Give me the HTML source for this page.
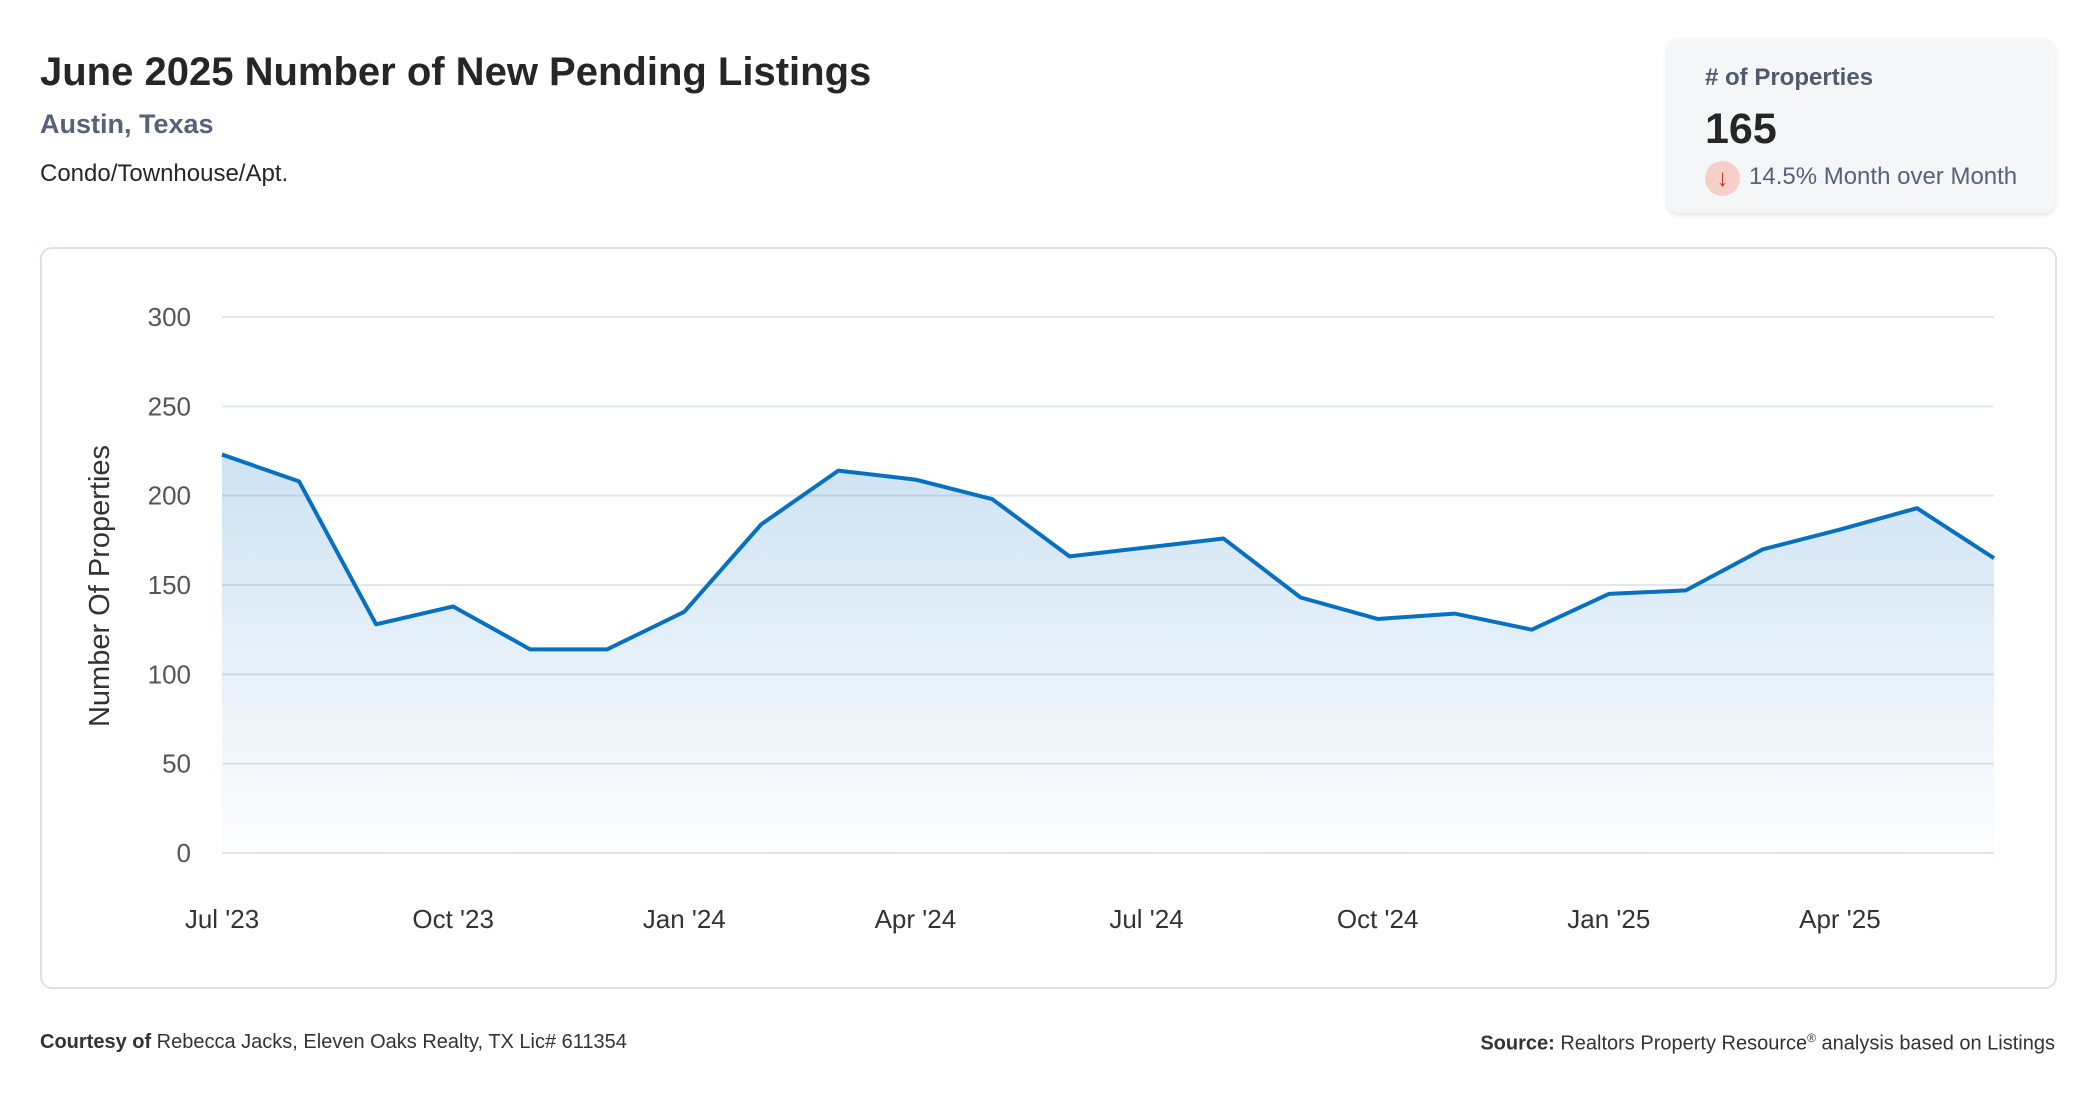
<!DOCTYPE html>
<html><head><meta charset="utf-8"><style>
body{margin:0;width:2096px;height:1100px;background:#fff;font-family:"Liberation Sans",sans-serif;position:relative;overflow:hidden}
.t{position:absolute;white-space:nowrap}
</style></head><body>
<div class="t" style="left:40px;top:50px;font-size:40px;font-weight:bold;color:#262626">June 2025 Number of New Pending Listings</div>
<div class="t" style="left:40px;top:109px;font-size:27px;font-weight:bold;color:#56627a">Austin, Texas</div>
<div class="t" style="left:40px;top:160px;font-size:24px;color:#262626">Condo/Townhouse/Apt.</div>
<div style="position:absolute;left:1667px;top:39px;width:388px;height:174px;background:#f5f6f8;border-radius:12px;box-shadow:0 2px 6px rgba(0,0,0,0.12)">
 <div class="t" style="left:38px;top:25px;font-size:24px;font-weight:bold;color:#4f5b6b"># of Properties</div>
 <div class="t" style="left:38px;top:66px;font-size:43px;font-weight:bold;color:#262626">165</div>
 <div style="position:absolute;left:38px;top:122px;width:35px;height:35px;border-radius:50%;background:#f5cfc8;color:#c0392b;font-size:24px;line-height:35px;text-align:center">↓</div>
 <div class="t" style="left:82px;top:124px;font-size:24px;color:#56627a">14.5% Month over Month</div>
</div>
<div style="position:absolute;left:40px;top:247px;width:2013px;height:738px;border:2px solid #dde2e7;border-radius:12px"></div>
<svg id="chart" width="2096" height="1100" style="position:absolute;left:0;top:0"></svg>
<div class="t" style="left:40px;top:1031px;font-size:20px;color:#333"><b>Courtesy of</b> Rebecca Jacks, Eleven Oaks Realty, TX Lic# 611354</div>
<div class="t" style="right:41px;top:1031px;font-size:20px;color:#333"><b>Source:</b> Realtors Property Resource<sup style="font-size:12px">®</sup> analysis based on Listings</div>
<script>
const months=["Jul '23","Aug '23","Sep '23","Oct '23","Nov '23","Dec '23","Jan '24","Feb '24","Mar '24","Apr '24","May '24","Jun '24","Jul '24","Aug '24","Sep '24","Oct '24","Nov '24","Dec '24","Jan '25","Feb '25","Mar '25","Apr '25","May '25","Jun '25"];
const values=[223,208,128,138,114,114,135,184,214,209,198,166,171,176,143,131,134,125,145,147,170,181,193,165];
const yTicks=[0,50,100,150,200,250,300];
const xTickIdx=[0,3,6,9,12,15,18,21];
const NS="http://www.w3.org/2000/svg",svg=document.getElementById('chart');
const X0=222,X1=1994,Y0=853,Y1=317,YMAX=300;
const x=i=>X0+(X1-X0)*i/(months.length-1);
const y=v=>Y0-(Y0-Y1)*v/YMAX;
function mk(t,a){const e=document.createElementNS(NS,t);for(const k in a)e.setAttribute(k,a[k]);svg.appendChild(e);return e;}
const defs=mk('defs',{});
defs.innerHTML='<linearGradient id="g" x1="0" y1="0" x2="0" y2="1"><stop offset="0" stop-color="#0a6fc2" stop-opacity="0.2"/><stop offset="1" stop-color="#0a6fc2" stop-opacity="0.01"/></linearGradient>';
yTicks.forEach(v=>{
 const l=mk('line',{x1:X0,x2:X1,y1:y(v),y2:y(v),stroke:'#e3e6ea','stroke-width':2});
 
 
 const t=mk('text',{x:191,y:y(v)+9,'text-anchor':'end','font-size':26,fill:'#555','font-family':'Liberation Sans, sans-serif'});
 t.textContent=v;
 
 
});
xTickIdx.forEach(i=>{
 const t=mk('text',{x:x(i),y:928,'text-anchor':'middle','font-size':26,fill:'#333','font-family':'Liberation Sans, sans-serif'});
 t.textContent=months[i];
 
 
});
const yt=mk('text',{x:0,y:0,transform:'translate(109,586) rotate(-90)','text-anchor':'middle','font-size':29,fill:'#333','font-family':'Liberation Sans, sans-serif'});
yt.textContent='Number Of Properties';


let d=values.map((v,i)=>(i?'L':'M')+x(i)+','+y(v)).join(' ');
const area=mk('path',{d:d+' L'+x(values.length-1)+','+Y0+' L'+X0+','+Y0+' Z',fill:'url(#g)'});


const line=mk('path',{d:d,fill:'none',stroke:'#0870c0','stroke-width':4,'stroke-linejoin':'round'});


</script>
</body></html>
